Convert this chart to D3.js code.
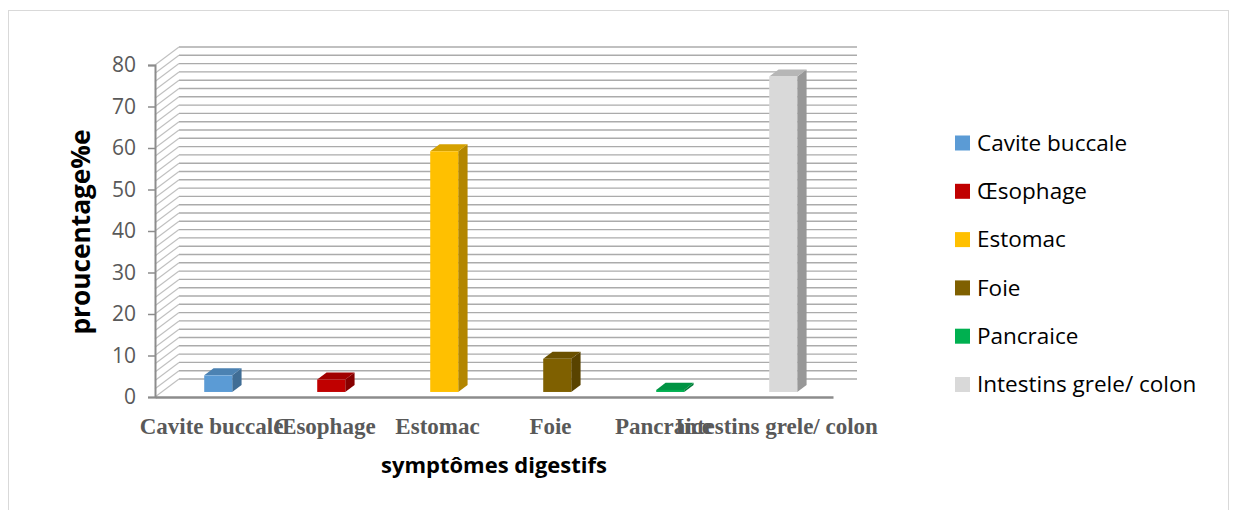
<!DOCTYPE html>
<html>
<head>
<meta charset="utf-8">
<script src="https://cdn.jsdelivr.net/npm/d3@7"></script>
<style>
  body { margin: 0; background: #fff; }
  svg { display: block; }
</style>
</head>
<body>
<div id="chart"></div>
<script>
// categories and values (percent)
var categories = ["Cavite buccale", "Œsophage", "Estomac", "Foie", "Pancraice", "Intestins grele/ colon"];
var values = [4, 3, 58, 8, 0.5, 76];
var yTicks = [0, 10, 20, 30, 40, 50, 60, 70, 80];
var gridValues = d3.range(0, 81, 2);
var colors = ["#5B9BD5", "#C00000", "#FFC000", "#7F6000", "#00B050", "#D9D9D9"];

var W = 1236, H = 510;
var plot = {left: 155, right: 833, top: 65, bottom: 397};
var depth = {dx: 24, dy: -18};   // oblique offset of the back wall
var barDepth = [0.28, 0.67];      // front/back of the columns, as fraction of depth

var svg = d3.select("#chart").append("svg").attr("width", W).attr("height", H);

// outer frame
svg.append("rect")
  .attr("x", 8.5).attr("y", 10.5)
  .attr("width", 1220).attr("height", 520)
  .attr("fill", "none").attr("stroke", "#d9d9d9");

var xScale = d3.scaleBand().domain(categories).range([plot.left, plot.right]);
var yScale = d3.scaleLinear().domain([0, 80]).range([plot.bottom, plot.top]);

function proj(x, v, z) {
  return [x + z * depth.dx, yScale(v) + z * depth.dy];
}

// back wall gridlines
var grid = svg.append("g").attr("class", "grid");
grid.selectAll("line.back")
  .data(gridValues)
  .enter().append("line")
  .attr("class", "back")
  .attr("x1", function(d) { return proj(plot.left, d, 1)[0]; })
  .attr("x2", plot.right + depth.dx)
  .attr("y1", function(d) { return proj(plot.left, d, 1)[1]; })
  .attr("y2", function(d) { return proj(plot.left, d, 1)[1]; })
  .attr("stroke", "#ababab")
  .attr("stroke-width", 1.4);

// side wall gridlines
grid.selectAll("line.side")
  .data(gridValues)
  .enter().append("line")
  .attr("class", "side")
  .attr("x1", plot.left)
  .attr("y1", function(d) { return yScale(d); })
  .attr("x2", function(d) { return proj(plot.left, d, 1)[0]; })
  .attr("y2", function(d) { return proj(plot.left, d, 1)[1]; })
  .attr("stroke", "#c0c0c0")
  .attr("stroke-width", 1.2);

// columns
var bw = 28;
var bars = svg.append("g").attr("class", "bars")
  .selectAll("g")
  .data(categories.map(function(c, i) { return {cat: c, value: values[i], color: colors[i]}; }))
  .enter().append("g");

bars.each(function(d) {
  var g = d3.select(this);
  var cx = xScale(d.cat) + xScale.bandwidth() / 2;
  var x0 = cx - bw / 2, x1 = cx + bw / 2;
  var z0 = barDepth[0], z1 = barDepth[1];
  var c = d3.color(d.color);
  var pt = function(p) { return p.join(","); };

  // side face
  g.append("polygon")
    .attr("points", [proj(x1, 0, z0), proj(x1, 0, z1), proj(x1, d.value, z1), proj(x1, d.value, z0)].map(pt).join(" "))
    .attr("fill", c.darker(1.0));
  // top face
  g.append("polygon")
    .attr("points", [proj(x0, d.value, z0), proj(x1, d.value, z0), proj(x1, d.value, z1), proj(x0, d.value, z1)].map(pt).join(" "))
    .attr("fill", c.darker(0.5));
  // front face
  var f0 = proj(x0, d.value, z0), f1 = proj(x1, 0, z0);
  g.append("rect")
    .attr("x", f0[0]).attr("y", f0[1])
    .attr("width", f1[0] - f0[0]).attr("height", Math.max(0, f1[1] - f0[1]))
    .attr("fill", d.color);
});

// axes
var yAxis = d3.axisLeft(yScale).tickValues(yTicks).tickSize(7).tickPadding(12);
var yAxisG = svg.append("g").attr("transform", "translate(" + plot.left + ",0)").call(yAxis);
yAxisG.select(".domain").attr("stroke", "#8c8c8c").attr("stroke-width", 2);
yAxisG.selectAll(".tick line").attr("stroke", "#8c8c8c").attr("stroke-width", 1.5);
yAxisG.selectAll("text")
  .attr("fill", "#595959")
  .style("font-family", "'Open Sans', sans-serif")
  .style("font-size", "21px");

var xAxis = d3.axisBottom(xScale).tickSize(0).tickPadding(21);
var xAxisG = svg.append("g").attr("transform", "translate(0," + plot.bottom + ")").call(xAxis);
xAxisG.select(".domain").attr("stroke", "#8c8c8c").attr("stroke-width", 2.5);
xAxisG.selectAll("text")
  .attr("fill", "#595959")
  .style("font-family", "'Liberation Serif', 'Times New Roman', serif")
  .style("font-weight", "bold")
  .style("font-size", "23px");

// axis titles
svg.append("text")
  .attr("x", 494).attr("y", 473)
  .attr("text-anchor", "middle")
  .attr("textLength", 226).attr("lengthAdjust", "spacingAndGlyphs")
  .style("font-family", "'Open Sans', sans-serif")
  .style("font-weight", "bold")
  .style("font-size", "21px")
  .text("symptômes digestifs");

svg.append("text")
  .attr("transform", "translate(90,232) rotate(-90)")
  .attr("text-anchor", "middle")
  .attr("textLength", 205).attr("lengthAdjust", "spacingAndGlyphs")
  .style("font-family", "'Open Sans', sans-serif")
  .style("font-weight", "bold")
  .style("font-size", "26px")
  .text("proucentage%e");

// legend
var legend = svg.append("g").attr("class", "legend")
  .selectAll("g")
  .data(categories)
  .enter().append("g")
  .attr("transform", function(d, i) { return "translate(955," + (143 + i * 48.3) + ")"; });

legend.append("rect")
  .attr("x", 0).attr("y", -7.5)
  .attr("width", 15).attr("height", 15)
  .attr("fill", function(d, i) { return colors[i]; });

legend.append("text")
  .attr("x", 22).attr("y", 0)
  .attr("dy", "0.35em")
  .attr("fill", "#000")
  .style("font-family", "'Open Sans', sans-serif")
  .style("font-size", "22.5px")
  .text(function(d) { return d; });
</script>
</body>
</html>
